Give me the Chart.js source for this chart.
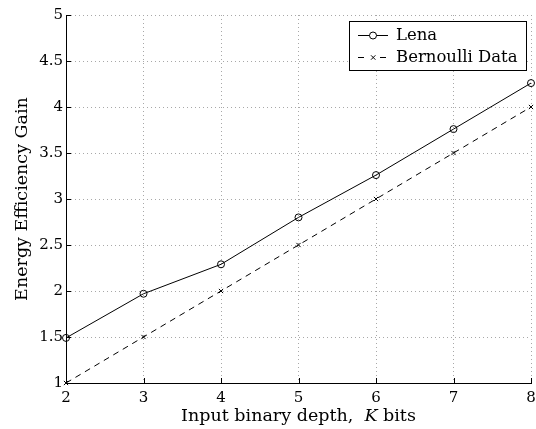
<!DOCTYPE html>
<html>
<head>
<meta charset="utf-8">
<script src="https://cdn.jsdelivr.net/npm/chart.js@4/dist/chart.umd.min.js"></script>
<style>
  html, body { margin: 0; padding: 0; background: #fff; }
  #wrap { width: 536px; height: 429px; }
</style>
</head>
<body>
<div id="wrap"><canvas id="c" width="536" height="429"></canvas></div>
<script>
"use strict";

const depthBits = [2, 3, 4, 5, 6, 7, 8];
const lenaGain = [1.49, 1.97, 2.29, 2.80, 3.26, 3.76, 4.26];
const bernoulliGain = [1.0, 1.5, 2.0, 2.5, 3.0, 3.5, 4.0];
const seriesNames = ["Lena", "Bernoulli Data"];
const yTitle = "Energy Efficiency Gain";
const xTitleParts = ["Input binary depth,  ", "K", " bits"];

const FONT = "'DejaVu Serif', 'Liberation Serif', serif";
const GRID_COLOR = "#a8a8a8";

function toPoints(ys) {
  return depthBits.map((x, i) => ({ x, y: ys[i] }));
}

// short inward tick marks on the left and bottom axes
const innerTicks = {
  id: "innerTicks",
  afterDraw(c) {
    const { ctx, chartArea, scales } = c;
    ctx.save();
    ctx.strokeStyle = "#000";
    ctx.lineWidth = 1;
    ctx.beginPath();
    scales.y.ticks.forEach((t) => {
      const y = Math.round(scales.y.getPixelForValue(t.value)) + 0.5;
      ctx.moveTo(chartArea.left, y);
      ctx.lineTo(chartArea.left + 5, y);
    });
    scales.x.ticks.forEach((t) => {
      const x = Math.round(scales.x.getPixelForValue(t.value)) + 0.5;
      ctx.moveTo(x, chartArea.bottom);
      ctx.lineTo(x, chartArea.bottom - 5);
    });
    ctx.stroke();
    ctx.restore();
  },
};

const axisTitles = {
  id: "axisTitles",
  afterDraw(c) {
    const { ctx, chartArea } = c;
    ctx.save();
    ctx.fillStyle = "#000";
    ctx.textBaseline = "alphabetic";
    // x title with italic K
    const fonts = ["17.5px " + FONT, "italic 17.5px " + FONT, "17.5px " + FONT];
    let total = 0;
    const widths = xTitleParts.map((p, i) => {
      ctx.font = fonts[i];
      const w = ctx.measureText(p).width;
      total += w;
      return w;
    });
    let x = (chartArea.left + chartArea.right) / 2 - total / 2;
    xTitleParts.forEach((p, i) => {
      ctx.font = fonts[i];
      ctx.textAlign = "left";
      ctx.fillText(p, x, 421);
      x += widths[i];
    });
    // y title
    ctx.translate(27, (chartArea.top + chartArea.bottom) / 2);
    ctx.rotate(-Math.PI / 2);
    ctx.font = "17.5px " + FONT;
    ctx.textAlign = "center";
    ctx.fillText(yTitle, 0, 0);
    ctx.restore();
  },
};

const boxLegend = {
  id: "boxLegend",
  afterDraw(c) {
    const { ctx } = c;
    const bx = 349.5, by = 21.5, bw = 177, bh = 49;
    ctx.save();
    ctx.fillStyle = "#fff";
    ctx.fillRect(bx, by, bw, bh);
    ctx.strokeStyle = "#000";
    ctx.lineWidth = 1;
    ctx.strokeRect(bx, by, bw, bh);
    const rows = [35, 57];
    c.data.datasets.forEach((ds, i) => {
      const y = rows[i] + 0.5;
      ctx.strokeStyle = "#000";
      ctx.setLineDash(ds.borderDash || []);
      ctx.beginPath();
      ctx.moveTo(358, y);
      ctx.lineTo(388, y);
      ctx.stroke();
      ctx.setLineDash([]);
      if (ds.pointStyle === "circle") {
        ctx.fillStyle = "#fff";
        ctx.beginPath();
        ctx.arc(373, y, 3.5, 0, Math.PI * 2);
        ctx.fill();
        ctx.stroke();
      } else {
        ctx.fillStyle = "#fff";
        ctx.fillRect(369, y - 4, 8, 8);
        ctx.beginPath();
        ctx.moveTo(371, y - 2.2); ctx.lineTo(375.4, y + 2.2);
        ctx.moveTo(375.4, y - 2.2); ctx.lineTo(371, y + 2.2);
        ctx.stroke();
      }
      ctx.fillStyle = "#000";
      ctx.font = "16.5px " + FONT;
      ctx.textAlign = "left";
      ctx.textBaseline = "middle";
      ctx.fillText(seriesNames[i], 396, rows[i] + 1);
    });
    ctx.restore();
  },
};

new Chart(document.getElementById("c"), {
  type: "line",
  data: {
    datasets: [
      {
        label: seriesNames[0],
        data: toPoints(lenaGain),
        borderColor: "#000",
        borderWidth: 1,
        pointStyle: "circle",
        pointRadius: 3.5,
        pointBorderWidth: 1,
        pointBorderColor: "#000",
        pointBackgroundColor: "rgba(255,255,255,0)",
        clip: false,
      },
      {
        label: seriesNames[1],
        data: toPoints(bernoulliGain),
        borderColor: "#000",
        borderWidth: 1,
        borderDash: [6, 5],
        pointStyle: "crossRot",
        pointRadius: 3,
        pointBorderWidth: 1,
        pointBorderColor: "#000",
        clip: false,
      },
    ],
  },
  options: {
    responsive: false,
    devicePixelRatio: 1,
    animation: false,
    layout: { padding: { top: 15, right: 0, left: 0, bottom: 0 } },
    scales: {
      x: {
        type: "linear",
        min: 2,
        max: 8,
        ticks: { stepSize: 1, color: "#000", font: { family: FONT, size: 15 }, padding: 6, maxRotation: 0 },
        grid: { color: GRID_COLOR, drawTicks: false, lineWidth: 1 },
        border: { display: true, color: "#000", width: 1, dash: [1, 3] },
        afterFit(s) { s.height = 46; s.paddingRight = 4; },
      },
      y: {
        min: 1,
        max: 5,
        ticks: {
          stepSize: 0.5,
          color: "#000",
          font: { family: FONT, size: 15 },
          padding: 3,
          callback: (v) => String(Math.round(v * 10) / 10),
        },
        grid: { color: GRID_COLOR, drawTicks: false, lineWidth: 1 },
        border: { display: true, color: "#000", width: 1, dash: [1, 3] },
        afterFit(s) { s.width = 66; },
      },
    },
    plugins: {
      legend: { display: false },
      tooltip: { enabled: false },
    },
  },
  plugins: [innerTicks, axisTitles, boxLegend],
});
</script>
</body>
</html>
